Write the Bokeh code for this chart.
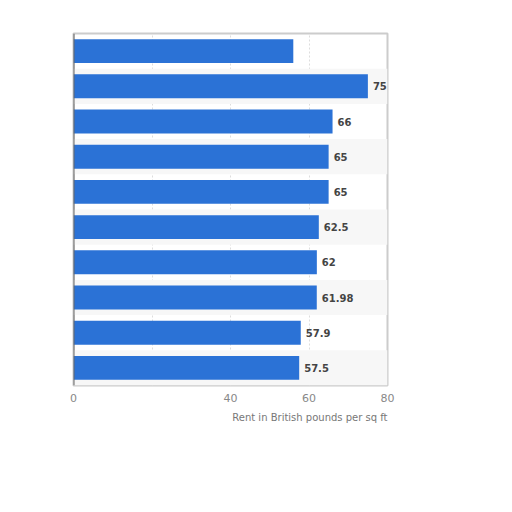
from bokeh.plotting import figure
from bokeh.models import ColumnDataSource, FactorRange, Title, FixedTicker, LabelSet, Span
from bokeh.core.properties import value
from bokeh.embed import file_html
from bokeh.resources import INLINE

ranks = ["1", "2", "3", "4", "5", "6", "7", "8", "9", "10"]
rents = [56, 75, 66, 65, 65, 62.5, 62, 61.98, 57.9, 57.5]
labels = ["", "75", "66", "65", "65", "62.5", "62", "61.98", "57.9", "57.5"]
x_ticks = [0, 20, 40, 60, 80]

src = ColumnDataSource(dict(rank=ranks, rent=rents, label=labels))

p = figure(width=400, height=432, output_backend="svg", toolbar_location=None,
           y_range=FactorRange(*reversed(ranks)), x_range=(0, 80),
           min_border_left=73, min_border_right=13, min_border_top=33, min_border_bottom=47)

# alternating stripes
stripe_ranks = [r for i, r in enumerate(ranks) if i % 2 == 1]
p.hbar(y=stripe_ranks, right=80, left=0, height=1.0, fill_color="#f7f7f7", line_color=None)

p.hbar(y="rank", right="rent", left=0, height=0.68, source=src,
       fill_color="#2B72D6", line_color=None)

p.add_layout(LabelSet(x="rent", y="rank", text="label", source=src, x_offset=5,
                      text_baseline="middle", text_font_size="10px",
                      text_font_style="bold", text_color="#444444",
                      text_font=value("DejaVu Sans")))

p.add_layout(Span(location=0, dimension="height", line_color="#666666", line_width=2))

p.xaxis.ticker = FixedTicker(ticks=x_ticks)
p.xaxis.major_label_overrides = {20: ""}
p.xaxis.axis_line_color = None
p.xaxis.major_tick_line_color = None
p.xaxis.minor_tick_line_color = None
p.xaxis.major_label_standoff = 2
p.xaxis.major_label_text_color = "#888888"
p.xaxis.major_label_text_font_size = "11px"
p.xaxis.major_label_text_font = "DejaVu Sans"

p.yaxis.visible = False

p.xgrid.grid_line_color = "#dddddd"
p.xgrid.grid_line_dash = "2 2"
p.ygrid.grid_line_color = None
p.outline_line_color = "#cccccc"
p.outline_line_width = 2

p.add_layout(Title(text="Rent in British pounds per sq ft", align="right",
                   text_font_size="10px", text_font_style="normal",
                   text_color="#777777", text_font="DejaVu Sans"), "below")

open("out.html", "w").write(file_html(p, INLINE))
